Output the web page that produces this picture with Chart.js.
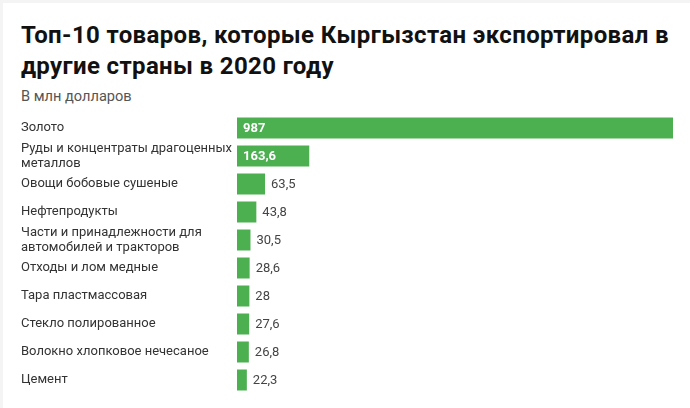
<!DOCTYPE html>
<html>
<head>
<meta charset="utf-8">
<script src="https://cdn.jsdelivr.net/npm/chart.js@4"></script>
<style>
  html, body { margin: 0; padding: 0; background: #f4f4f4; }
  #frame { position: absolute; left: 3px; top: 3px; width: 687px; height: 405px; background: #fff; }
  #title { position: absolute; left: 18px; top: 17px; margin: 0; font-family: Roboto, sans-serif; font-weight: bold; font-size: 24px; line-height: 31px; letter-spacing: 0.36px; color: #111; white-space: nowrap; }
  #sub { position: absolute; left: 18px; top: 86px; margin: 0; font-family: Roboto, sans-serif; font-size: 14.6px; line-height: 15px; color: #555; white-space: nowrap; }
  #wrap { position: absolute; left: -3px; top: 111px; width: 690px; height: 280px; }
</style>
</head>
<body>
<div id="frame">
  <h1 id="title">Топ-10 товаров, которые Кыргызстан экспортировал в<br>другие страны в 2020 году</h1>
  <p id="sub">В млн долларов</p>
  <div id="wrap"><canvas id="c"></canvas></div>
</div>
<script>
const categories = [
  ['Золото'],
  ['Руды и концентраты драгоценных', 'металлов'],
  ['Овощи бобовые сушеные'],
  ['Нефтепродукты'],
  ['Части и принадлежности для', 'автомобилей и тракторов'],
  ['Отходы и лом медные'],
  ['Тара пластмассовая'],
  ['Стекло полированное'],
  ['Волокно хлопковое нечесаное'],
  ['Цемент']
];
const values = [987, 163.6, 63.5, 43.8, 30.5, 28.6, 28, 27.6, 26.8, 22.3];
const insideThreshold = 100;

const fmt = v => String(v).replace('.', ',');

const valueLabels = {
  id: 'valueLabels',
  afterDatasetsDraw(chart) {
    const ctx = chart.ctx;
    const meta = chart.getDatasetMeta(0);
    ctx.save();
    ctx.textBaseline = 'middle';
    ctx.textAlign = 'left';
    meta.data.forEach((bar, i) => {
      const v = values[i];
      if (v >= insideThreshold) {
        ctx.font = 'bold 13px Roboto, sans-serif';
        ctx.fillStyle = '#ffffff';
        ctx.fillText(fmt(v), bar.base + 6, bar.y + 1);
      } else {
        ctx.font = '13px Roboto, sans-serif';
        ctx.fillStyle = '#444444';
        ctx.fillText(fmt(v), bar.x + 6, bar.y + 1);
      }
    });
    ctx.restore();
  }
};

new Chart(document.getElementById('c'), {
  type: 'bar',
  data: {
    labels: categories,
    datasets: [{
      data: values,
      backgroundColor: '#4caf50',
      borderWidth: 0,
      categoryPercentage: 1,
      barPercentage: 0.75
    }]
  },
  options: {
    indexAxis: 'y',
    responsive: true,
    maintainAspectRatio: false,
    animation: false,
    layout: { padding: { left: 21, right: 17, top: 0, bottom: 0 } },
    plugins: { legend: { display: false }, tooltip: { enabled: false } },
    scales: {
      x: {
        display: false,
        min: 0,
        max: 987
      },
      y: {
        afterFit(scale) {
          scale.width = 216;
          scale.paddingTop = 0;
          scale.paddingBottom = 0;
        },
        grid: { display: false },
        border: { display: false },
        ticks: {
          autoSkip: false,
          crossAlign: 'far',
          color: '#333',
          font: { family: 'Roboto, sans-serif', size: 13, lineHeight: 1.15 }
        }
      }
    }
  },
  plugins: [valueLabels]
});
</script>
</body>
</html>
